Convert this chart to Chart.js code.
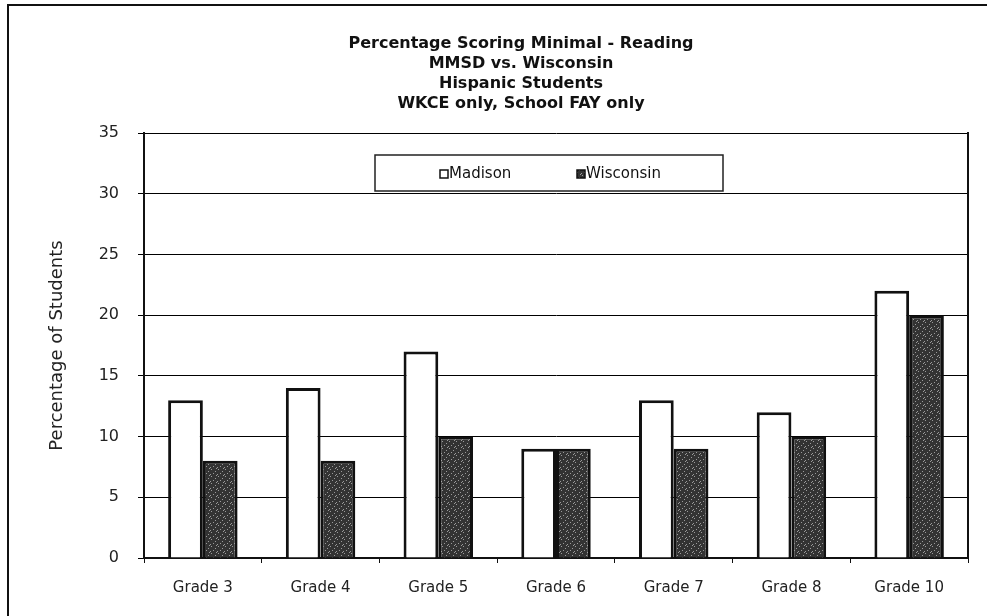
<!DOCTYPE html>
<html>
<head>
<meta charset="utf-8">
<script src="https://cdn.jsdelivr.net/npm/chart.js@4/dist/chart.umd.min.js"></script>
<style>
  html, body { margin: 0; padding: 0; background: #fff; }
  #c { display: block; }
</style>
</head>
<body>
<canvas id="c" width="987" height="616"></canvas>
<script>
// ---- data ----
const categories = ['Grade 3', 'Grade 4', 'Grade 5', 'Grade 6', 'Grade 7', 'Grade 8', 'Grade 10'];
const madison = [13, 14, 17, 9, 13, 12, 22];
const wisconsin = [8, 8, 10, 9, 9, 10, 20];
const seriesNames = ['Madison', 'Wisconsin'];
const yMin = 0, yMax = 35, yStep = 5;
const titleLines = ['Percentage Scoring Minimal - Reading', 'MMSD vs. Wisconsin', 'Hispanic Students', 'WKCE only, School FAY only'];
const yTitle = 'Percentage of Students';

// ---- styling helpers ----
const FONT = "'DejaVu Sans', 'Liberation Sans', Arial, sans-serif";
function speckle() {
  const c = document.createElement('canvas');
  c.width = 7; c.height = 7;
  const g = c.getContext('2d');
  g.fillStyle = '#333333';
  g.fillRect(0, 0, 7, 7);
  g.fillStyle = '#9a9a9a';
  [[1, 0], [5, 2], [3, 4], [6, 6], [0, 5]].forEach(p => g.fillRect(p[0], p[1], 1, 1));
  return g.createPattern(c, 'repeat');
}
const wisFill = speckle();

const framePlugin = {
  id: 'frame',
  afterLayout(chart) {
    const t = chart.titleBlock;
    if (t) { t.left = 2 * 521 - t.right; }
  },
  afterDraw(chart) {
    const ctx = chart.ctx;
    ctx.save();
    // outer frame (left + top)
    ctx.strokeStyle = '#111';
    ctx.lineWidth = 2;
    ctx.beginPath();
    ctx.moveTo(8, 616); ctx.lineTo(8, 5); ctx.lineTo(987, 5);
    ctx.stroke();
    // legend box
    const bx = 375, by = 155, bw = 348, bh = 36;
    ctx.fillStyle = '#fff';
    ctx.fillRect(bx, by, bw, bh);
    ctx.lineWidth = 1.5;
    ctx.strokeStyle = '#222';
    ctx.strokeRect(bx, by, bw, bh);
    const itemX = [440, 577];
    const cy = by + bh / 2 + 1;
    chart.data.datasets.forEach((ds, i) => {
      const x = itemX[i];
      ctx.fillStyle = ds.backgroundColor;
      ctx.fillRect(x, cy - 4, 8, 8);
      ctx.lineWidth = 1.5;
      ctx.strokeStyle = '#111';
      ctx.strokeRect(x, cy - 4, 8, 8);
      ctx.fillStyle = '#111';
      ctx.font = '15px ' + FONT;
      ctx.textBaseline = 'middle';
      ctx.textAlign = 'left';
      ctx.fillText(ds.label, x + 9, cy);
    });
    ctx.restore();
  }
};

new Chart(document.getElementById('c'), {
  type: 'bar',
  data: {
    labels: categories,
    datasets: [
      { label: seriesNames[0], data: madison, backgroundColor: '#ffffff', borderColor: '#111', borderWidth: 3, borderSkipped: 'bottom' },
      { label: seriesNames[1], data: wisconsin, backgroundColor: wisFill, borderColor: '#111', borderWidth: 3, borderSkipped: 'bottom' }
    ]
  },
  options: {
    responsive: false,
    animation: false,
    events: [],
    layout: { padding: { left: 20, right: 19, top: 0, bottom: 0 } },
    datasets: { bar: { categoryPercentage: 0.59, barPercentage: 1.0 } },
    plugins: {
      legend: { display: false },
      tooltip: { enabled: false },
      title: {
        display: true,
        text: titleLines,
        color: '#111',
        font: { family: FONT, size: 16, weight: 'bold', lineHeight: 1.25 },
        padding: { top: 34, bottom: 19 }
      }
    },
    scales: {
      x: {
        grid: { display: true, offset: true, drawOnChartArea: false, drawTicks: true, tickLength: 5, color: '#111', lineWidth: 1 },
        border: { display: true, color: '#111', width: 2 },
        ticks: { color: '#222', font: { family: FONT, size: 15 }, padding: 16, maxRotation: 0 },
        afterFit(s) { s.height = 58; }
      },
      y: {
        min: yMin, max: yMax,
        ticks: { stepSize: yStep, color: '#222', font: { family: FONT, size: 16 }, padding: 19 },
        grid: { color: '#000', lineWidth: 1, tickLength: 6, drawTicks: true },
        border: { display: true, color: '#111', width: 2 },
        title: { display: true, text: yTitle, color: '#222', font: { family: FONT, size: 18 }, padding: { top: 27, bottom: 0 } },
        afterFit(s) { s.width = 124; }
      },
      y2: {
        position: 'right',
        min: yMin, max: yMax,
        ticks: { display: false },
        grid: { drawOnChartArea: false, drawTicks: false },
        border: { display: true, color: '#111', width: 2 },
        afterFit(s) { s.width = 0; }
      }
    }
  },
  plugins: [framePlugin]
});
</script>
</body>
</html>
